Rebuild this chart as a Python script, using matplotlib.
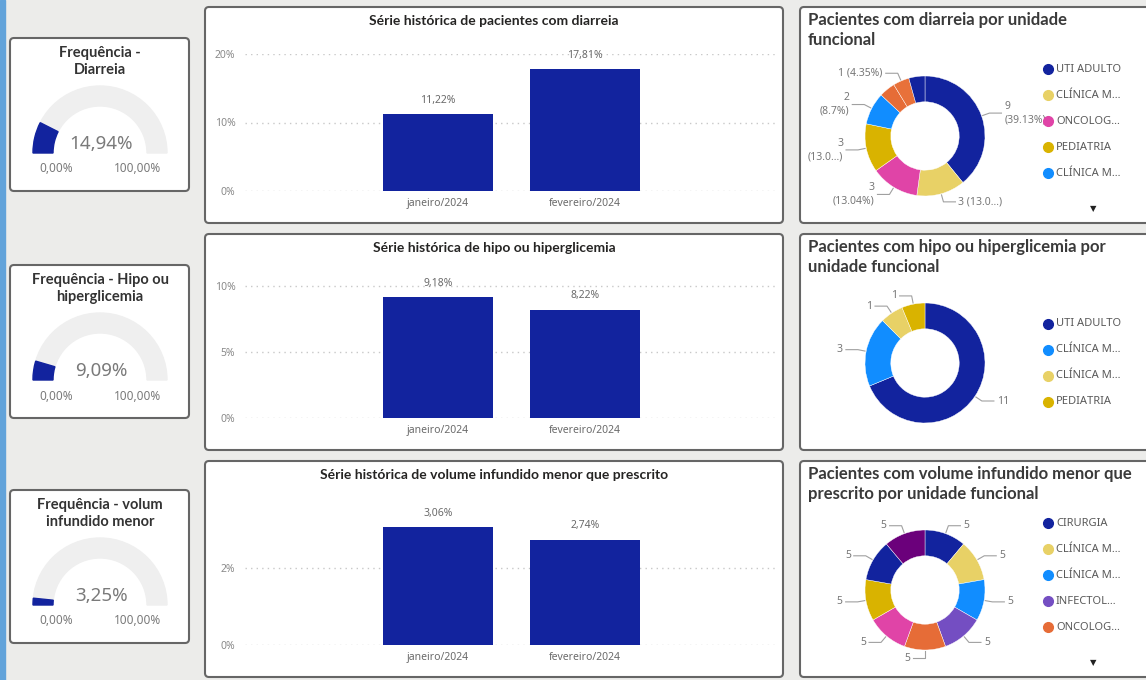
import numpy as np
import matplotlib.pyplot as plt
from matplotlib.patches import FancyBboxPatch, Rectangle, Wedge
from matplotlib.lines import Line2D

plt.rcParams['font.family'] = ['Noto Sans', 'DejaVu Sans']

W, H = 1146, 680

# gauge cards
gauge_titles = ['Frequência -\nDiarreia', 'Frequência - Hipo ou\nhiperglicemia',
                'Frequência - volum\ninfundido menor']
gauge_values = [14.94, 9.09, 3.25]
gauge_min, gauge_max = 0, 100

# bar charts
bar_titles = ['Série histórica de pacientes com diarreia',
              'Série histórica de hipo ou hiperglicemia',
              'Série histórica de volume infundido menor que prescrito']
months = ['janeiro/2024', 'fevereiro/2024']
diarreia = [11.22, 17.81]
glicemia = [9.18, 8.22]
volume = [3.06, 2.74]
bar_ticks = [[0, 10, 20], [0, 5, 10], [0, 2]]
bar_ymax = [20, 10.4, 3.56]

# donut charts
donut_titles = ['Pacientes com diarreia por unidade\nfuncional',
                'Pacientes com hipo ou hiperglicemia por\nunidade funcional',
                'Pacientes com volume infundido menor que\nprescrito por unidade funcional']
diarreia_units = ['UTI ADULTO', 'CLÍNICA M…', 'ONCOLOG…', 'PEDIATRIA', 'CLÍNICA M…',
                  'OUTRA 1', 'OUTRA 2', 'OUTRA 3']
diarreia_counts = [9, 3, 3, 3, 2, 1, 1, 1]
diarreia_labels = ['9\n(39.13%)', '3 (13.0…)', '3\n(13.04%)', '3\n(13.0…)', '2\n(8.7%)',
                   '', '1 (4.35%)', '']
glicemia_units = ['UTI ADULTO', 'CLÍNICA M…', 'CLÍNICA M…', 'PEDIATRIA']
glicemia_counts = [11, 3, 1, 1]
glicemia_labels = ['11', '3', '1', '1']
volume_units = ['CIRURGIA', 'CLÍNICA M…', 'CLÍNICA M…', 'INFECTOL…', 'ONCOLOG…',
                'OUTRA 1', 'OUTRA 2', 'OUTRA 3', 'OUTRA 4']
volume_counts = [5, 5, 5, 5, 5, 5, 5, 5, 5]
volume_labels = ['5', '5', '5', '5', '5', '5', '5', '5', '5']

navy = '#12239E'
yellow = '#E8D166'
pink = '#E044A7'
gold = '#D9B300'
sky = '#118DFF'
orange = '#E66C37'
purple = '#744EC2'
plum = '#6B007B'
diarreia_colors = [navy, yellow, pink, gold, sky, orange, '#E8713A', navy]
glicemia_colors = [navy, sky, yellow, gold]
volume_colors = [navy, yellow, sky, purple, orange, pink, gold, navy, plum]

title_font = ['Lato', 'DejaVu Sans']


def px_box(x0, y0, x1, y1):
    return [x0 / W, 1 - y1 / H, (x1 - x0) / W, (y1 - y0) / H]


def txt(x, y, s, **kw):
    fig.text(x / W, 1 - y / H, s, **kw)


def panel(x0, y0, x1, y1):
    p = FancyBboxPatch((x0 / W, 1 - y1 / H), (x1 - x0) / W, (y1 - y0) / H,
                       boxstyle='round,pad=0,rounding_size=%f' % (4 / W),
                       mutation_aspect=W / H, transform=fig.transFigure,
                       facecolor='white', edgecolor='#666666', lw=1.5, zorder=-1)
    fig.add_artist(p)


fig = plt.figure(figsize=(W / 100, H / 100), dpi=100, facecolor='#ECECEA')
fig.add_artist(Rectangle((0, 0), 5 / W, 1, transform=fig.transFigure,
                         color='#62A3DA', zorder=-2))

# gauges
for top, title, v in zip([38, 265, 490], gauge_titles, gauge_values):
    panel(10, top, 189, top + 153)
    txt(100, top + 8, title, ha='center', va='top', fontsize=10.5, weight='bold',
        color='#333333', linespacing=1.25, family=title_font)
    ax = fig.add_axes(px_box(10, top, 189, top + 153))
    ax.set_xlim(10, 189)
    ax.set_ylim(H - (top + 153), H - top)
    ax.axis('off')
    cx, cy = 100, H - (top + 115)
    ax.add_patch(Wedge((cx, cy), 67, 0, 180, width=20, color='#EFEFEF'))
    ang = 180 - 180 * (v - gauge_min) / (gauge_max - gauge_min)
    ax.add_patch(Wedge((cx, cy), 67, ang, 180, width=20, color=navy))
    txt(101, top + 106, f'{v:.2f}%'.replace('.', ','), ha='center', va='center',
        fontsize=13.5, color='#7A7A7A')
    txt(56, top + 131, f'{gauge_min:.2f}%'.replace('.', ','), ha='center', va='center',
        fontsize=8.5, color='#7A7A7A')
    txt(138, top + 131, f'{gauge_max:.2f}%'.replace('.', ','), ha='center', va='center',
        fontsize=8.5, color='#7A7A7A')

# bar charts
for i, (top, title, vals) in enumerate(zip([7, 234, 461], bar_titles,
                                            [diarreia, glicemia, volume])):
    panel(205, top, 783, top + 216)
    txt(494, top + 14, title, ha='center', va='center', fontsize=10, weight='bold',
        color='#252423', family=title_font)
    ax = fig.add_axes(px_box(245, top + 47, 778, top + 184))
    ax.set_facecolor('none')
    x = np.arange(len(months))
    ax.bar(x, vals, width=0.755, color=navy)
    ax.set_xlim(-1.313, 2.313)
    ax.set_ylim(0, bar_ymax[i])
    ax.set_yticks(bar_ticks[i])
    ax.set_yticklabels([f'{t}%' for t in bar_ticks[i]])
    ax.set_xticks(x)
    ax.set_xticklabels(months)
    ax.tick_params(axis='y', length=0, pad=7, labelsize=7.5, labelcolor='#8A8A8A')
    ax.tick_params(axis='x', length=0, pad=5, labelsize=7.5, labelcolor='#6A6A6A')
    for s in ax.spines.values():
        s.set_visible(False)
    ax.grid(axis='y', color='#C8C8C8', linestyle=(0, (1, 3)), lw=1)
    ax.set_axisbelow(True)
    for xi, v in zip(x, vals):
        ax.annotate(f'{v:.2f}%'.replace('.', ','), (xi, v), xytext=(0, 10),
                    textcoords='offset points', ha='center', va='center',
                    fontsize=7.5, color='#6A6A6A')

# donut charts
donuts = [(diarreia_units, diarreia_counts, diarreia_labels, diarreia_colors),
          (glicemia_units, glicemia_counts, glicemia_labels, glicemia_colors),
          (volume_units, volume_counts, volume_labels, volume_colors)]
for top, title, (units, counts, labels, colors) in zip([7, 234, 461], donut_titles, donuts):
    panel(800, top, 1156, top + 216)
    txt(808, top + 5, title, ha='left', va='top', fontsize=12, weight='bold',
        color='#3A3A3A', linespacing=1.3, family=title_font)
    R = 60
    k = 1.75
    cx, cy = 925, top + 129
    ax = fig.add_axes(px_box(cx - R * k, cy - R * k, cx + R * k, cy + R * k))
    wedges, _ = ax.pie(counts, colors=colors, startangle=90, counterclock=False, radius=1,
                       wedgeprops=dict(width=0.43, edgecolor='white', linewidth=0.3))
    ax.set_xlim(-k, k)
    ax.set_ylim(-k, k)
    ax.set_aspect('equal')
    for w, lab in zip(wedges, labels):
        if not lab:
            continue
        a = np.deg2rad((w.theta1 + w.theta2) / 2)
        ux, uy = np.cos(a), np.sin(a)
        side = 1 if ux >= -1e-9 else -1
        ex, ey = 1.14 * ux, 1.14 * uy
        hx = ex + side * 0.2
        ax.plot([1.02 * ux, ex, hx], [1.02 * uy, ey, ey], color='#A0A0A0', lw=0.8)
        ax.text(hx + side * 0.05, ey, lab, ha='left' if side > 0 else 'right',
                va='center', fontsize=7.5, color='#777777', linespacing=1.3,
                clip_on=False)
    n_show = min(5, len(units))
    scroll = len(units) > 5
    y0 = cy - 67 if scroll else cy - (n_show - 1) * 13
    for j in range(n_show):
        yy = y0 + j * 26
        fig.add_artist(Line2D([1048 / W], [1 - yy / H], marker='o', ms=7, lw=0,
                              color=colors[j], transform=fig.transFigure))
        txt(1056, yy, units[j], ha='left', va='center', fontsize=8, color='#5A5A5A')
    if scroll:
        txt(1093, y0 + 4 * 26 + 36, '▼', ha='center', va='center', fontsize=6,
            color='#222222', family=['DejaVu Sans'])

fig.savefig('out.png', dpi=100, facecolor=fig.get_facecolor())
